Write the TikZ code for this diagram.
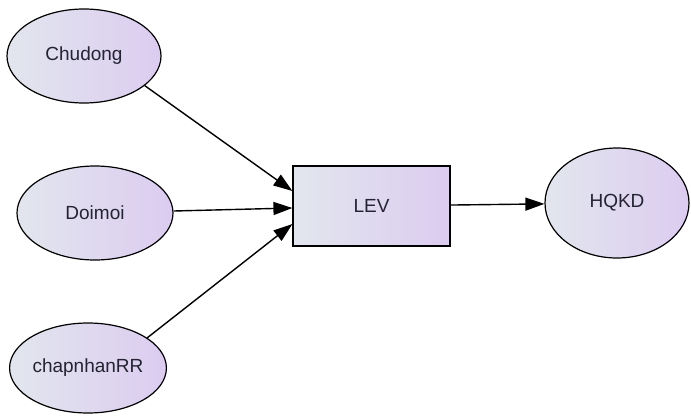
\documentclass[tikz,border=0pt]{standalone}
\usepackage{fontspec}
\setmainfont{Liberation Sans}
\usetikzlibrary{shapes.geometric,arrows.meta}
\definecolor{fillA}{RGB}{226,230,238}
\definecolor{fillB}{RGB}{220,204,240}
\definecolor{txt}{RGB}{35,35,50}
\tikzset{
  latent/.style={ellipse, draw=black, line width=1.2pt, inner sep=0pt,
    left color=fillA, right color=fillB, text=txt,
    font=\fontsize{19}{22}\selectfont},
  observed/.style={rectangle, draw=black, line width=1.2pt, inner sep=0pt,
    left color=fillA, right color=fillB, text=txt,
    font=\fontsize{19}{22}\selectfont},
  path/.style={line width=1.4pt, -{Triangle[length=19pt,width=13pt]}}
}
\begin{document}
\begin{tikzpicture}[x=1pt,y=-1pt]
\useasboundingbox (0,0) rectangle (691,418);
\node[latent, minimum width=154pt, minimum height=94pt] (chudong) at (84,56) {Chudong};
\node[latent, minimum width=156pt, minimum height=94pt] (doimoi) at (95,213) {Doimoi};
\node[latent, minimum width=150pt, minimum height=90pt] (chapnhan) at (88,368) {chapnhanRR};
\node[observed, minimum width=157pt, minimum height=80pt] (lev) at (371.5,206) {LEV};
\node[latent, minimum width=144pt, minimum height=110pt] (hqkd) at (617,203) {HQKD};

\draw[path] (chudong.-26) -- ([yshift=15pt]lev.west);
\draw[path] (doimoi) -- ([yshift=-2pt]lev.west);
\draw[path] (chapnhan.27) -- ([yshift=-18pt]lev.west);
\draw[path] (lev) -- (hqkd);
\end{tikzpicture}
\end{document}
